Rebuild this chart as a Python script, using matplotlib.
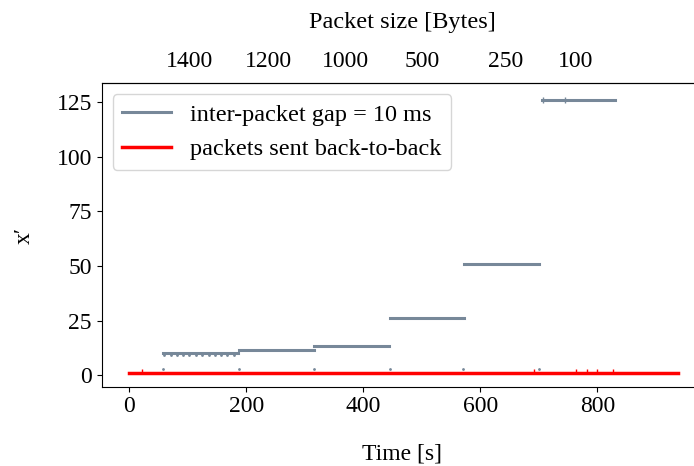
import numpy as np
import matplotlib.pyplot as plt

plt.rcParams['font.family'] = ['Liberation Serif', 'DejaVu Serif']
plt.rcParams['font.size'] = 17

# gap = 10 ms, one flat run per packet size
seg_start = [58, 187, 316, 445, 573, 705]
seg_end = [186, 315, 444, 572, 701, 830]
seg_level = [10.0, 11.5, 13.5, 26.0, 51.0, 126.0]

# stray points of the gap run
gap_dot_t = [60, 71, 82, 92, 103, 114, 125, 136, 146, 157, 168, 179]
gap_dot_y = [9] * len(gap_dot_t)
gap_low_t = [58, 187, 315, 445, 571, 700]
gap_low_y = [3] * len(gap_low_t)
gap_tick_t = [707, 745]
gap_tick_y = [126, 126]

# back-to-back run
b2b_t = [0, 938]
b2b_y = [1.0, 1.0]
b2b_blip_t = [22, 691, 764, 783, 800, 826]
b2b_blip_y = [2, 2, 2, 2, 2, 2]

size_pos = [103, 238, 370, 500, 643, 763]
size_labels = ['1400', '1200', '1000', '500', '250', '100']

grey = '#778899'

fig = plt.figure(figsize=(6.94, 4.66), dpi=100)
ax = fig.add_axes([0.1465, 0.1702, 0.866, 0.651])

for i in range(len(seg_start)):
    ax.plot([seg_start[i], seg_end[i]], [seg_level[i], seg_level[i]], color=grey, lw=2.2,
            label='inter-packet gap = 10 ms' if i == 0 else None)
ax.plot(gap_dot_t, gap_dot_y, ls='none', marker='.', ms=2, color=grey)
ax.plot(gap_low_t, gap_low_y, ls='none', marker='.', ms=2, color=grey)
ax.plot(gap_tick_t, gap_tick_y, ls='none', marker='|', ms=5, color=grey)
ax.plot(b2b_t, b2b_y, color='red', lw=2.5, label='packets sent back-to-back')
ax.plot(b2b_blip_t, b2b_blip_y, ls='none', marker='|', ms=3, color='red')

ax.set_xlim(-47, 980)
ax.set_ylim(-5.3, 133.6)
ax.set_xticks([0, 200, 400, 600, 800])
ax.set_yticks([0, 25, 50, 75, 100, 125])
ax.set_xlabel('Time [s]', labelpad=19)
ax.set_ylabel('x′', labelpad=16)
ax.legend(loc='upper left', borderaxespad=0.45, fontsize=17.5)

top = ax.secondary_xaxis('top')
top.set_xticks(size_pos, size_labels)
top.tick_params(length=0, pad=8)
top.set_xlabel('Packet size [Bytes]', labelpad=17, fontsize=17.5)

fig.savefig('out.png', dpi=100)
